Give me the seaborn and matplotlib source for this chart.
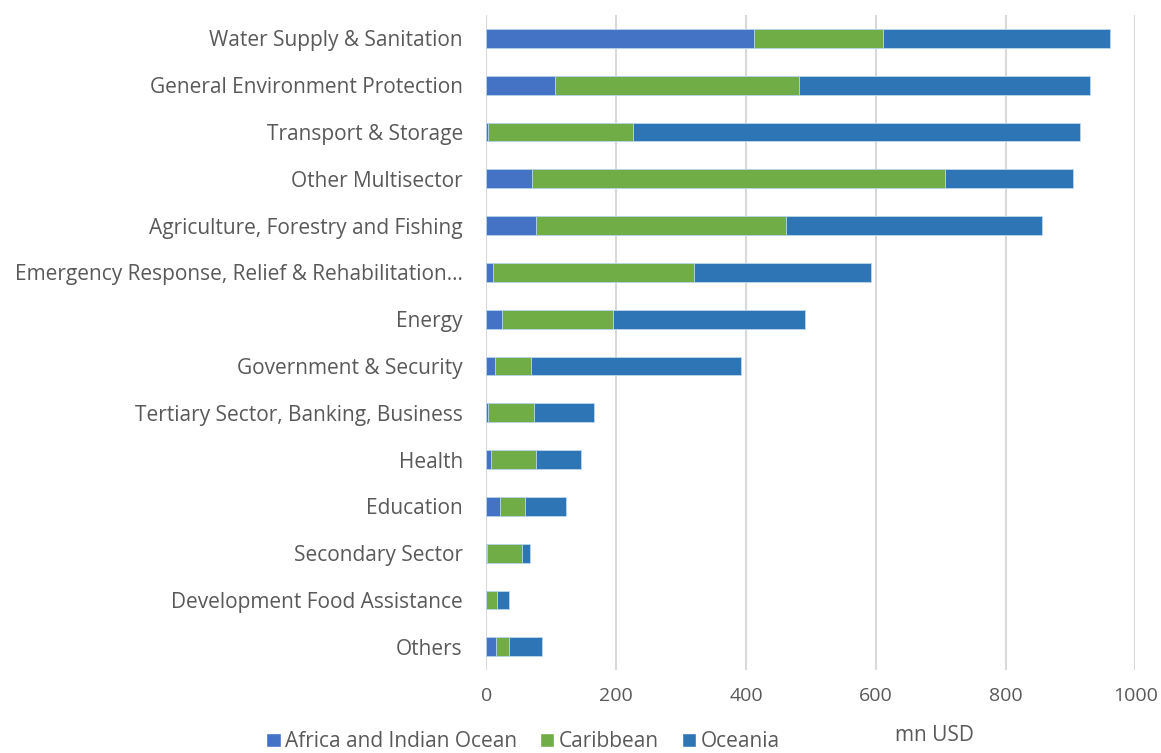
import numpy as np
import pandas as pd
import matplotlib
matplotlib.use("Agg")
import matplotlib.pyplot as plt
from matplotlib.patches import Patch
import seaborn as sns

setores = [
    "Water Supply & Sanitation",
    "General Environment Protection",
    "Transport & Storage",
    "Other Multisector",
    "Agriculture, Forestry and Fishing",
    "Emergency Response, Relief & Rehabilitation…",
    "Energy",
    "Government & Security",
    "Tertiary Sector, Banking, Business",
    "Health",
    "Education",
    "Secondary Sector",
    "Development Food Assistance",
    "Others",
]
africa = [413, 106, 3, 70, 76, 10, 24, 13, 2, 7, 21, 1, 0, 14]
caribbean = [198, 376, 223, 637, 386, 310, 171, 55, 71, 70, 38, 54, 17, 21]
oceania = [350, 448, 688, 196, 394, 272, 296, 324, 93, 69, 63, 12, 18, 50]

regioes = ["Africa and Indian Ocean", "Caribbean", "Oceania"]
cores = ["#4472C4", "#70AD47", "#2E75B6"]

sns.set_theme(style="white")
plt.rcParams["font.family"] = ["Open Sans", "DejaVu Sans"]
cinza = "#595959"

df = pd.DataFrame({"setor": setores, "africa": africa,
                   "caribbean": caribbean, "oceania": oceania})
df["c1"] = df["africa"]
df["c2"] = df["africa"] + df["caribbean"]
df["c3"] = df["c2"] + df["oceania"]

fig, ax = plt.subplots(figsize=(11.61, 7.53), dpi=100)
fig.subplots_adjust(left=0.419, right=0.978, top=0.98, bottom=0.11)

# barras empilhadas: desenha o total e sobrepõe as somas parciais
for coluna, cor in zip(["c3", "c2", "c1"], cores[::-1]):
    sns.barplot(data=df, x=coluna, y="setor", color=cor, orient="y",
                width=0.4, edgecolor="#BDD7EE", linewidth=0.6, ax=ax,
                saturation=1)

ax.set_xlim(0, 1000)
ax.set_ylim(13.5, -0.5)
ax.set_xticks(np.arange(0, 1001, 200))
ax.xaxis.grid(True, color="#D9D9D9", linewidth=1.5)
ax.set_axisbelow(True)
for lado in ["top", "right", "bottom", "left"]:
    ax.spines[lado].set_visible(False)
ax.tick_params(axis="y", length=0, labelsize=15, labelcolor=cinza, pad=17)
ax.tick_params(axis="x", length=0, labelsize=14, labelcolor=cinza, pad=12)
ax.set_ylabel("")
ax.set_xlabel("mn USD", fontsize=15, color=cinza)
ax.xaxis.set_label_coords(0.69, -0.083)

handles = [Patch(facecolor=c, label=r) for r, c in zip(regioes, cores)]
fig.legend(handles=handles, loc="lower left", bbox_to_anchor=(0.213, -0.024),
           ncol=3, frameon=False, fontsize=15, labelcolor=cinza,
           handlelength=0.7, handleheight=0.7, handletextpad=0.2,
           columnspacing=1.1)

plt.savefig("out.png", dpi=100)
